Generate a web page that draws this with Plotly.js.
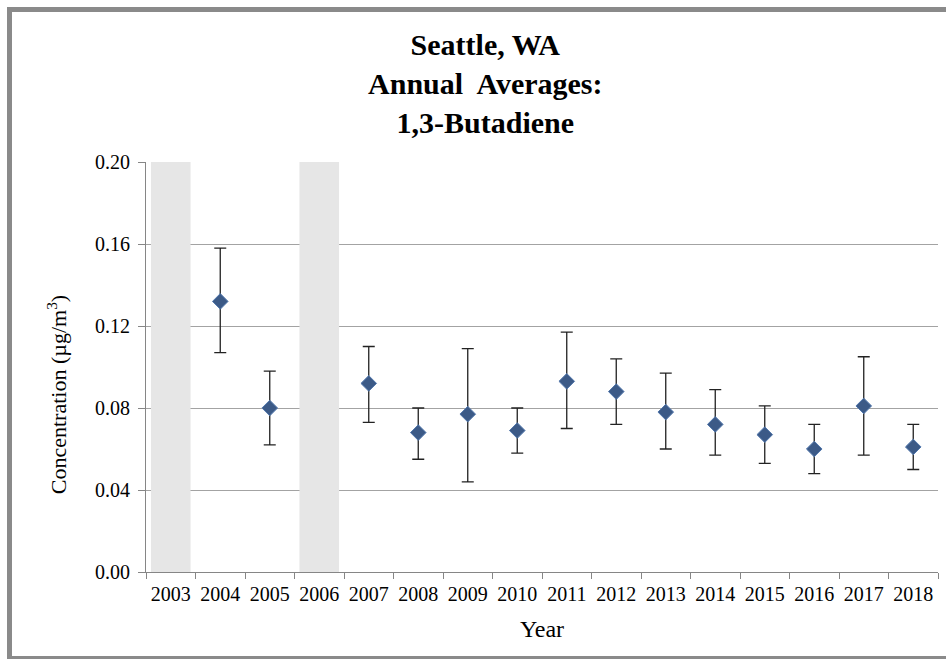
<!DOCTYPE html>
<html>
<head>
<meta charset="utf-8">
<script src="https://cdn.plot.ly/plotly-3.0.1.min.js"></script>
<style>
  html, body { margin: 0; padding: 0; background: #ffffff; overflow: hidden; }
  #wrap { position: relative; width: 946px; height: 659px; overflow: hidden; }
  #chart { position: absolute; left: 0; top: 0; width: 946px; height: 659px; }
  #frame { position: absolute; left: 7px; top: 7px; width: 960px; height: 654px;
           box-sizing: border-box; border: 5px solid #8a8a8a; pointer-events: none; }
</style>
</head>
<body>
<div id="wrap">
  <div id="chart"></div>
  <div id="frame"></div>
</div>
<script>
// All categories on the x axis
const years = ["2003","2004","2005","2006","2007","2008","2009","2010","2011","2012","2013","2014","2015","2016","2017","2018"];

// Years with annual averages
const dataYears = ["2004","2005","2007","2008","2009","2010","2011","2012","2013","2014","2015","2016","2017","2018"];
const meanValues = [0.132, 0.080, 0.092, 0.068, 0.077, 0.069, 0.093, 0.088, 0.078, 0.072, 0.067, 0.060, 0.081, 0.061];
const upperValues = [0.158, 0.098, 0.110, 0.080, 0.109, 0.080, 0.117, 0.104, 0.097, 0.089, 0.081, 0.072, 0.105, 0.072];
const lowerValues = [0.107, 0.062, 0.073, 0.055, 0.044, 0.058, 0.070, 0.072, 0.060, 0.057, 0.053, 0.048, 0.057, 0.050];

// Years without data (shaded bands)
const missingYears = ["2003","2006"];
const missingHeight = [0.20, 0.20];

const errPlus = upperValues.map((u, i) => u - meanValues[i]);
const errMinus = lowerValues.map((l, i) => meanValues[i] - l);

const serif = "Liberation Serif";

const traces = [
  {
    type: "bar",
    x: missingYears,
    y: missingHeight,
    width: 0.8,
    marker: { color: "#e6e6e6", line: { width: 0 } },
    hoverinfo: "skip",
    showlegend: false
  },
  {
    type: "scatter",
    mode: "markers",
    x: dataYears,
    y: meanValues,
    marker: { symbol: "diamond", size: 12, color: "#3c5a87", line: { color: "#5278ad", width: 1 } },
    error_y: {
      type: "data",
      symmetric: false,
      array: errPlus,
      arrayminus: errMinus,
      color: "#222222",
      thickness: 1.3,
      width: 6
    },
    showlegend: false
  }
];

const layout = {
  width: 946,
  height: 659,
  autosize: false,
  paper_bgcolor: "#ffffff",
  plot_bgcolor: "#ffffff",
  margin: { l: 146, r: 8, t: 162, b: 87 },
  font: { family: serif, color: "#000000", size: 21 },
  showlegend: false,
  title: {
    text: "<b>Seattle, WA</b><br><b>Annual  Averages:</b><br><b>1,3-Butadiene</b>",
    font: { family: serif, size: 30, color: "#000000" },
    x: 0.513,
    xanchor: "center",
    y: 0.917,
    yanchor: "middle",
    yref: "container"
  },
  xaxis: {
    type: "category",
    categoryorder: "array",
    categoryarray: years,
    range: [-0.5, 15.5],
    showgrid: false,
    showline: true,
    linecolor: "#868686",
    linewidth: 1,
    ticks: "outside",
    tickson: "boundaries",
    ticklen: 6,
    tickcolor: "#868686",
    tickangle: 0,
    tickfont: { family: serif, size: 20, color: "#000000" },
    ticklabelstandoff: 4,
    zeroline: false,
    fixedrange: true,
    title: { text: "Year", font: { family: serif, size: 24, color: "#000000" }, standoff: 16 }
  },
  yaxis: {
    range: [0, 0.2],
    tick0: 0,
    dtick: 0.04,
    tickformat: ".2f",
    showgrid: true,
    gridcolor: "#a3a3a3",
    gridwidth: 1,
    showline: true,
    linecolor: "#868686",
    linewidth: 1,
    ticks: "outside",
    ticklen: 7,
    tickcolor: "#868686",
    tickfont: { family: serif, size: 20, color: "#000000" },
    ticklabelstandoff: 4,
    zeroline: false,
    fixedrange: true,
    title: { text: "Concentration (µg/m<sup>3</sup>)&nbsp;&nbsp;&nbsp;&nbsp;&nbsp;&nbsp;&nbsp;&nbsp;&nbsp;&nbsp;", font: { family: serif, size: 22, color: "#000000" }, standoff: 22 }
  }
};

Plotly.newPlot("chart", traces, layout, { staticPlot: true, displayModeBar: false });
</script>
</body>
</html>
